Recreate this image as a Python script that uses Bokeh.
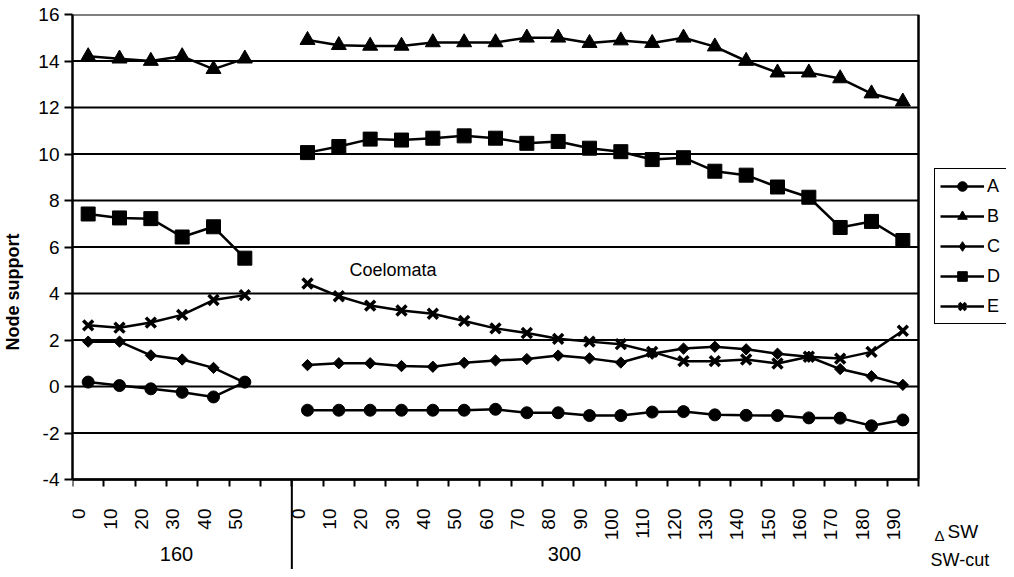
import math
from bokeh.plotting import figure
from bokeh.models import (Range1d, FixedTicker, CustomJSTickFormatter, Label,
                          Legend, LegendItem)
from bokeh.embed import file_html
from bokeh.resources import INLINE

# ---- data ----
groups = ["160", "300"]
dsw_160 = ["0", "10", "20", "30", "40", "50"]
dsw_300 = ["0", "10", "20", "30", "40", "50", "60", "70", "80", "90", "100",
           "110", "120", "130", "140", "150", "160", "170", "180", "190"]

A_160 = [0.19, 0.04, -0.10, -0.25, -0.45, 0.19]
A_300 = [-1.02, -1.02, -1.02, -1.02, -1.02, -1.02, -0.98, -1.13, -1.13, -1.25,
         -1.25, -1.10, -1.08, -1.22, -1.24, -1.25, -1.35, -1.36, -1.69, -1.44]

B_160 = [14.2, 14.1, 14.0, 14.2, 13.65, 14.1]
B_300 = [14.9, 14.68, 14.65, 14.65, 14.8, 14.8, 14.8, 15.0, 15.0, 14.77,
         14.88, 14.77, 15.0, 14.62, 14.0, 13.5, 13.5, 13.25, 12.6, 12.25]

C_160 = [1.93, 1.93, 1.34, 1.16, 0.80, 0.17]
C_300 = [0.92, 1.0, 1.0, 0.88, 0.85, 1.02, 1.12, 1.18, 1.33, 1.21,
         1.03, 1.41, 1.63, 1.71, 1.60, 1.41, 1.28, 0.75, 0.44, 0.07]

D_160 = [7.42, 7.25, 7.22, 6.43, 6.87, 5.52]
D_300 = [10.06, 10.32, 10.64, 10.6, 10.68, 10.78, 10.68, 10.46, 10.54, 10.25,
         10.1, 9.76, 9.84, 9.26, 9.09, 8.58, 8.14, 6.84, 7.1, 6.28]

E_160 = [2.63, 2.53, 2.75, 3.08, 3.72, 3.93]
E_300 = [4.43, 3.88, 3.48, 3.27, 3.13, 2.82, 2.5, 2.3, 2.05, 1.93,
         1.82, 1.49, 1.09, 1.09, 1.16, 0.99, 1.28, 1.2, 1.49, 2.4]

series_names = ["A", "B", "C", "D", "E"]
series_160 = [A_160, B_160, C_160, D_160, E_160]
series_300 = [A_300, B_300, C_300, D_300, E_300]

y_ticks = [-4, -2, 0, 2, 4, 6, 8, 10, 12, 14, 16]

# ---- geometry (pixel positions measured on the reference picture) ----
FONT = "Liberation Sans"
nan = float("nan")
tick_labels = dsw_160 + [""] + dsw_300          # one blank slot between groups
n_slots = len(tick_labels)
xs = list(range(n_slots))
x_lo, x_hi = -0.5, n_slots - 0.5                # slot area
y_lo, y_hi = y_ticks[0], y_ticks[-1]

W, H = 1006, 569
ORIGIN = 1                                      # where the canvas lands in the photo
PX_LEFT, PX_DATA_RIGHT = 73, 919
PX_TOP, PX_AXIS = 15, 480
PX_CANVAS_RIGHT, PX_CANVAS_BOTTOM = ORIGIN + W, ORIGIN + H
X_PER = (PX_DATA_RIGHT - PX_LEFT) / n_slots
Y_PER = (PX_AXIS - PX_TOP) / (y_hi - y_lo)


def dx(px):
    return x_lo + (px - PX_LEFT) / X_PER


def dy(py):
    return y_lo + (PX_AXIS - py) / Y_PER


p = figure(width=W, height=H, output_backend="svg", toolbar_location=None,
           x_range=Range1d(x_lo, dx(PX_CANVAS_RIGHT)),
           y_range=Range1d(dy(PX_CANVAS_BOTTOM), y_hi),
           min_border_left=PX_LEFT - ORIGIN, min_border_right=0,
           min_border_top=PX_TOP - ORIGIN, min_border_bottom=0)
p.background_fill_color = "white"
p.border_fill_color = "white"
p.outline_line_color = None
p.grid.visible = False

# gridlines and right border, limited to the slot area
p.segment(x0=[x_lo] * len(y_ticks), y0=y_ticks, x1=[x_hi] * len(y_ticks), y1=y_ticks,
          line_color="black", line_width=2, level="underlay")
p.segment(x0=[x_hi], y0=[y_lo], x1=[x_hi], y1=[y_hi], line_color="black", line_width=2.5)
# divider between the SW-cut groups, running down through the labels
divider_x = len(dsw_160) + 0.5
p.segment(x0=[divider_x], y0=[y_lo], x1=[divider_x], y1=[dy(PX_CANVAS_BOTTOM)],
          line_color="black", line_width=2)

# y axis
p.yaxis.bounds = (y_lo, y_hi)
p.yaxis.ticker = FixedTicker(ticks=y_ticks)
p.yaxis.formatter = CustomJSTickFormatter(code="return tick.toString();")
p.yaxis.major_label_text_font = FONT
p.yaxis.major_label_text_font_size = "19px"
p.yaxis.major_label_text_color = "black"
p.yaxis.major_tick_out = 8
p.yaxis.major_tick_in = 0
p.yaxis.major_tick_line_width = 2
p.yaxis.major_tick_line_color = "black"
p.yaxis.minor_tick_line_color = None
p.yaxis.axis_line_width = 2.5
p.yaxis.axis_line_color = "black"
p.yaxis.major_label_standoff = 5
p.yaxis.axis_label = "Node support"
p.yaxis.axis_label_text_font = FONT
p.yaxis.axis_label_text_font_style = "bold"
p.yaxis.axis_label_text_font_size = "18px"
p.yaxis.axis_label_text_color = "black"
p.yaxis.axis_label_standoff = 12

# x axis (ΔSW values), drawn at y = -4 inside the frame
label_ticks = [i - 0.3 for i, t in enumerate(tick_labels) if t != ""]
boundaries = [i - 0.5 for i in range(n_slots + 1)]
p.xaxis.fixed_location = y_lo
p.xaxis.bounds = (x_lo, x_hi)
p.xaxis.ticker = FixedTicker(ticks=label_ticks, minor_ticks=boundaries)
p.xaxis.formatter = CustomJSTickFormatter(args=dict(labels=tick_labels),
                                          code="return labels[Math.round(tick)] || '';")
p.xaxis.major_tick_out = 0
p.xaxis.major_tick_in = 0
p.xaxis.major_tick_line_color = None
p.xaxis.minor_tick_out = 7
p.xaxis.minor_tick_in = 0
p.xaxis.minor_tick_line_width = 2
p.xaxis.minor_tick_line_color = "black"
p.xaxis.axis_line_width = 2.5
p.xaxis.axis_line_color = "black"
p.xaxis.major_label_orientation = math.pi / 2
p.xaxis.major_label_standoff = 22
p.xaxis.major_label_text_font = FONT
p.xaxis.major_label_text_font_size = "19px"
p.xaxis.major_label_text_color = "black"

# ---- series ----
markers = {
    "A": dict(marker="circle", size=12, angle=0, lw=1, lmarker="circle", lsize=10),
    "B": dict(marker="triangle", size=15, angle=0, lw=1, lmarker="triangle", lsize=13),
    "C": dict(marker="square", size=8, angle=math.pi / 4, lw=1, lmarker="diamond", lsize=13),
    "D": dict(marker="square", size=14, angle=0, lw=1, lmarker="square", lsize=13),
    "E": dict(marker="x", size=14, angle=0, lw=3.5, lmarker="x", lsize=12),
}
items = []
for name, a, b in zip(series_names, series_160, series_300):
    ys = a + [nan] + b
    m = markers[name]
    p.line(xs, ys, line_width=2.5, line_color="black")
    p.scatter(xs, ys, marker=m["marker"], size=m["size"], angle=m["angle"],
              fill_color="black", line_color="black", line_width=m["lw"])
    # legend-only renderers (smaller markers, as in the reference legend)
    lln = p.line([nan], [nan], line_width=2.5, line_color="black")
    lsc = p.scatter([nan], [nan], marker=m["lmarker"], size=m["lsize"],
                    fill_color="black", line_color="black", line_width=m["lw"])
    items.append(LegendItem(label=name, renderers=[lln, lsc]))

legend = Legend(items=items, location=(935 - PX_LEFT, PX_CANVAS_BOTTOM - 325))
legend.border_line_color = "black"
legend.border_line_width = 1.5
legend.border_line_alpha = 1
legend.background_fill_color = "white"
legend.background_fill_alpha = 1
legend.padding = 5
legend.spacing = 6
legend.margin = 0
legend.glyph_height = 24
legend.glyph_width = 44
legend.label_height = 24
legend.label_standoff = 3
legend.label_text_font = FONT
legend.label_text_font_size = "18px"
legend.label_text_color = "black"
p.add_layout(legend)

# ---- texts ----
p.add_layout(Label(x=dx(350), y=dy(270), text="Coelomata", text_font=FONT,
                   text_font_size="18px", text_baseline="middle", text_color="black"))
for g, gpx in zip(groups, [177, 565]):
    p.add_layout(Label(x=dx(gpx), y=dy(554), text=g, text_font=FONT, text_font_size="20px",
                       text_align="center", text_baseline="middle", text_color="black"))
p.add_layout(Label(x=dx(935), y=dy(536), text="\u0394", text_font=FONT,
                   text_font_size="15px", text_baseline="alphabetic", text_color="black"))
p.add_layout(Label(x=dx(948), y=dy(532), text="SW", text_font=FONT,
                   text_font_size="19px", text_baseline="alphabetic", text_color="black"))
p.add_layout(Label(x=dx(931), y=dy(560), text="SW-cut", text_font=FONT,
                   text_font_size="18px", text_baseline="alphabetic", text_color="black"))

open("out.html", "w").write(file_html(p, INLINE))
